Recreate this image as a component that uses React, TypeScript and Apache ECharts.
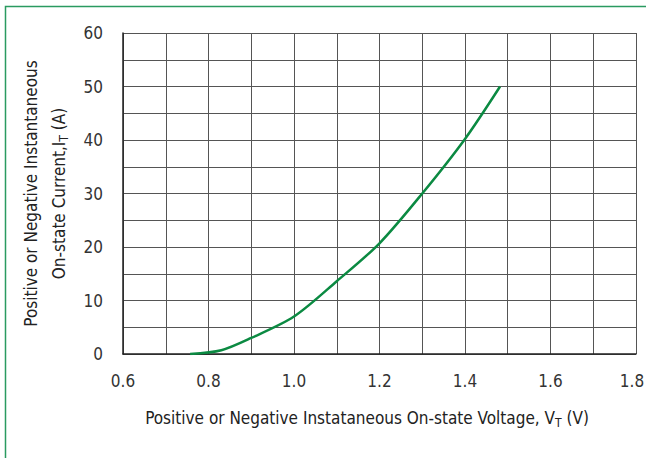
import React, { useEffect, useRef } from "react";
import * as echarts from "echarts";

const voltage = [0.757, 0.83, 0.9, 1.0, 1.1, 1.2, 1.3, 1.4, 1.482];
const current = [0, 0.7, 3.0, 7.0, 13.6, 20.7, 30.0, 40.2, 50.0];

const FONT = '"Liberation Sans Narrow", "DejaVu Sans Condensed", "Roboto", sans-serif';
const GREEN = "#0b8a42";

export default function App() {
  const ref = useRef<HTMLDivElement>(null);
  useEffect(() => {
    const chart = echarts.init(ref.current!, undefined, { renderer: "svg" });
    const data = voltage.map((v, i) => [v, current[i]]);
    chart.setOption({
      animation: false,
      backgroundColor: "#ffffff",
      grid: { left: 123, right: 10, top: 33, bottom: 104, outerBoundsMode: "none", containLabel: false },
      graphic: [
        {
          type: "rect",
          shape: { x: 5.5, y: 6.5, width: 700, height: 500 },
          style: { fill: "none", stroke: "#2a9a60", lineWidth: 1.5 },
          silent: true,
        },
      ],
      xAxis: {
        type: "value",
        min: 0.6,
        max: 1.8,
        interval: 0.1,
        axisLine: { show: true, onZero: false, lineStyle: { color: "#222", width: 1.5 } },
        axisTick: { show: false },
        splitLine: { show: true, lineStyle: { color: "#555", width: 1 } },
        axisLabel: {
          margin: 18,
          fontFamily: FONT,
          fontSize: 17,
          color: "#333",
          formatter: (v: number) => {
            if (Math.round(v * 10) % 2 !== 0) return "";
            if (Math.abs(v - 1.8) < 1e-6) return "{e|1.8}";
            return v.toFixed(1);
          },
          rich: {
            e: { fontFamily: FONT, fontSize: 17, color: "#333", padding: [0, 8, 0, 0] },
          },
        },
        name: "{a|Positive or Negative Instataneous On-state Voltage, V}{s|T}{a| (V)}",
        nameLocation: "middle",
        nameGap: 53,
        nameTextStyle: {
          padding: [0, 25, 0, 0],
          rich: {
            a: { fontFamily: FONT, fontSize: 17, color: "#222" },
            s: { fontFamily: FONT, fontSize: 12, color: "#222", padding: [10, 0, 0, 0] },
          },
        },
      },
      yAxis: {
        type: "value",
        min: 0,
        max: 60,
        interval: 5,
        axisLine: { show: true, lineStyle: { color: "#222", width: 1.5 } },
        axisTick: { show: false },
        splitLine: { show: true, lineStyle: { color: "#555", width: 1 } },
        axisLabel: {
          margin: 20,
          fontFamily: FONT,
          fontSize: 17,
          color: "#333",
          formatter: (v: number) => (v % 10 === 0 ? String(v) : ""),
        },
        name: "{a|Positive or Negative Instantaneous}\n{a|On-state Current,I}{s|T}{a| (A)}",
        nameLocation: "middle",
        nameGap: 37,
        nameTextStyle: {
          lineHeight: 28,
          rich: {
            a: { fontFamily: FONT, fontSize: 17, color: "#222", lineHeight: 28 },
            s: { fontFamily: FONT, fontSize: 12, color: "#222", lineHeight: 28, padding: [10, 0, 0, 0] },
          },
        },
      },
      series: [
        {
          type: "line",
          data,
          smooth: 0.3,
          showSymbol: false,
          lineStyle: { color: GREEN, width: 2.5 },
        },
      ],
    });
    return () => chart.dispose();
  }, []);
  return <div ref={ref} style={{ width: 646, height: 458, position: "absolute", left: 0, top: 0 }} />;
}
